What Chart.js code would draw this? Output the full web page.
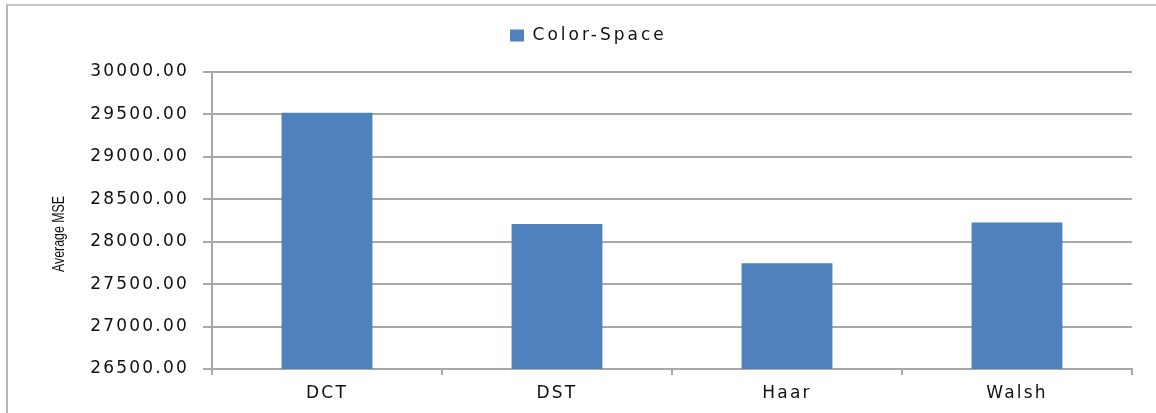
<!DOCTYPE html>
<html>
<head>
<meta charset="utf-8">
<script src="https://cdn.jsdelivr.net/npm/chart.js@4/dist/chart.umd.min.js"></script>
<style>
  html, body { margin: 0; padding: 0; background: #fff; }
  #wrap { position: relative; width: 1156px; height: 413px; overflow: hidden; }
  #frame { position: absolute; left: 6px; top: 4px; width: 1160px; height: 420px;
           border-left: 2px solid #b8b8b8; border-top: 2px solid #c8c8c8; }
  canvas { position: absolute; left: 0; top: 0; }
</style>
</head>
<body>
<div id="wrap">
  <div id="frame"></div>
  <canvas id="c" width="1156" height="413"></canvas>
</div>
<script>
const categories = ['DCT', 'DST', 'Haar', 'Walsh'];
const seriesName = 'Color-Space';
const seriesValues = [29520, 28210, 27745, 28225];
const yMin = 26500, yMax = 30000, yStep = 500;
const yTitle = 'Average MSE';

const LS = '2.2px';
const spacingPlugin = {
  id: 'spacing',
  beforeInit(chart) {
    const leg = chart.legend;
    if (leg) {
      const fit = leg.fit;
      leg.fit = function () { fit.call(this); this.height += 18; };
      const draw = leg.draw;
      leg.draw = function () {
        const ctx = this.ctx;
        ctx.save();
        ctx.translate(18, 0);
        ctx.letterSpacing = '3px';
        draw.call(this);
        ctx.restore();
      };
    }
  },
  beforeLayout(chart) { chart.ctx.letterSpacing = LS; },
  beforeDraw(chart) { chart.ctx.letterSpacing = LS; },
  afterDraw(chart) {
    const ctx = chart.ctx;
    ctx.save();
    ctx.letterSpacing = '0px';
    ctx.translate(60, 234);
    ctx.rotate(-Math.PI / 2);
    ctx.scale(0.77, 1);
    ctx.font = '16px "Liberation Sans", sans-serif';
    ctx.fillStyle = '#111';
    ctx.textAlign = 'center';
    ctx.textBaseline = 'middle';
    ctx.fillText(yTitle, 0, 0);
    ctx.restore();
  }
};

const gridColor = '#a8a8a8';
const fontFam = '"DejaVu Sans", sans-serif';

new Chart(document.getElementById('c'), {
  type: 'bar',
  data: {
    labels: categories,
    datasets: [{
      label: seriesName,
      data: seriesValues,
      backgroundColor: '#4f81bd',
      borderWidth: 0,
      categoryPercentage: 1,
      barPercentage: 0.395
    }]
  },
  options: {
    responsive: false,
    animation: false,
    devicePixelRatio: 1,
    layout: { padding: { left: 0, right: 24, top: 17, bottom: 0 } },
    plugins: {
      legend: {
        display: true,
        position: 'top',
        labels: {
          boxWidth: 14,
          boxHeight: 12,
          padding: 10,
          color: '#111',
          font: { family: fontFam, size: 17 }
        }
      },
      tooltip: { enabled: false }
    },
    scales: {
      x: {
        offset: true,
        grid: { offset: true, drawOnChartArea: false, drawTicks: true, tickLength: 6, color: gridColor, lineWidth: 2 },
        border: { display: true, color: gridColor, width: 2 },
        ticks: { color: '#111', padding: 8, font: { family: fontFam, size: 17 } },
        afterFit(s) { s.height = 44; }
      },
      y: {
        min: yMin,
        max: yMax,
        ticks: {
          stepSize: yStep,
          color: '#111',
          padding: 14,
          font: { family: fontFam, size: 17 },
          callback: (v) => Number(v).toFixed(2)
        },
        grid: { color: gridColor, lineWidth: 2, tickLength: 9 },
        border: { display: true, color: gridColor, width: 2 },
        afterFit(s) { s.width = 212; }
      }
    }
  },
  plugins: [spacingPlugin]
});
</script>
</body>
</html>
